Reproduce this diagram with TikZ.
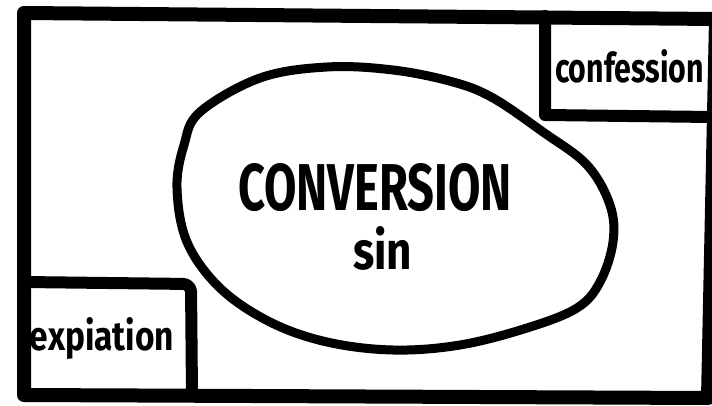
\documentclass[tikz,border=0pt]{standalone}
\usepackage{fontspec}
\setmainfont{Fira Sans}
\usepackage{graphicx}
\tikzset{
  ink/.style={draw=black, line join=round, line cap=round},
  frame/.style={ink, line width=14pt},
  boxline/.style={ink, line width=12pt},
  blob/.style={ink, line width=9pt},
  lbl/.style={inner sep=0pt, outer sep=0pt, font=\bfseries}
}
\begin{document}
\begin{tikzpicture}[x=1pt,y=-1pt]
\useasboundingbox (0,0) rectangle (712,406);
\fill[white] (0,0) rectangle (712,406);
% outer frame
\draw[frame] (24,13) -- (716,19) -- (708,398) -- (24,395) -- cycle;
% confession box
\draw[boxline] (545,16) -- (545,115) -- (712,117);
% expiation box
\draw[boxline, rounded corners=8pt] (24,282) -- (191,284) -- (192,395);
% conversion blob
\draw[blob] plot[smooth cycle, tension=0.6] coordinates {
 (200,112) (260,78) (327,67) (393,70) (453,82) (493,98) (543,132)
 (587,165) (610,205) (613,242) (600,282) (577,308) (527,328) (460,345)
 (393,350) (327,342) (270,322) (220,288) (187,242) (177,188) (184,145)};
% labels
\node[lbl, anchor=south west] (conv) at (238,212) {\resizebox{274pt}{47pt}{CONVERSION}};
\node[lbl, anchor=south west] (sin) at (353,270) {\resizebox{59pt}{43pt}{sin}};
\node[lbl, anchor=south west] (conf) at (555,83) {\resizebox{149pt}{33pt}{confession}};
\node[lbl, anchor=south west] (expi) at (30,360) {\resizebox*{144pt}{42pt}{expiation}};
\end{tikzpicture}
\end{document}
